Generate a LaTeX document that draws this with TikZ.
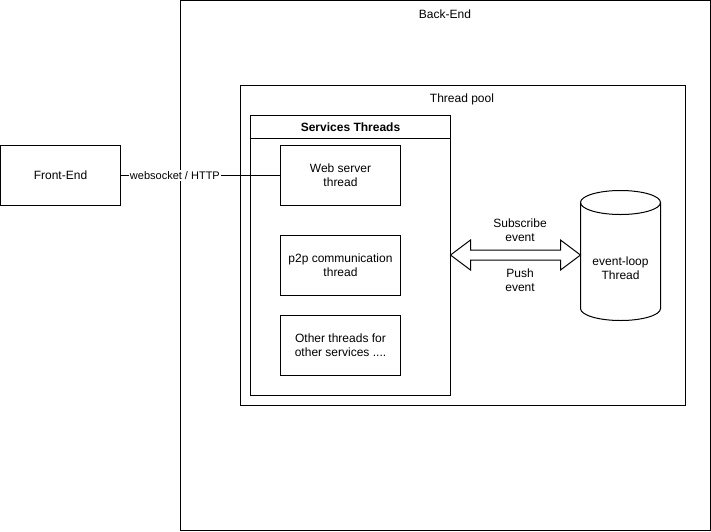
\documentclass[tikz,border=0pt]{standalone}
\usepackage{fontspec}
\setmainfont{Liberation Sans}
\usetikzlibrary{positioning,calc}
\definecolor{edge_black}{RGB}{0,0,0}

\begin{document}
\begin{tikzpicture}[x=1pt,y=-1pt,line width=1pt,font=\fontsize{12}{14}\selectfont]
    \tikzstyle{box}=[draw=edge_black, rectangle, inner sep=0pt, outer sep=0pt, fill=white, text=black, align=center]
    \tikzstyle{thread}=[style=box, minimum width=120pt, minimum height=60pt]
    \tikzstyle{lbl}=[text=black, align=center, inner sep=1pt]

    \useasboundingbox (0,0) rectangle (711,531);

    \node[box, minimum width=530pt, minimum height=530pt] (be) at (445.5,265.5) {};
    \node[lbl]                                         (bel) at (445,14)     {Back-End};
    \node[box, minimum width=445pt, minimum height=320pt] (tp) at (463,245.5) {};
    \node[lbl]                                         (tpl) at (462,99)     {Thread pool};
    \node[box, minimum width=200pt, minimum height=280pt] (svc) at (350.5,255.5) {};
    \node[box, minimum width=200pt, minimum height=23pt,
          font=\fontsize{12}{14}\selectfont\bfseries]   (svch) at (350.5,127) {Services Threads};

    \node[thread]                   (web)   at (340.5,175.5) {Web server\\thread};
    \node[thread, below=30pt of web] (p2p)  {p2p communication\\thread};
    \node[thread, below=20pt of p2p] (other) {Other threads for\\other services ....};
    \node[thread]                   (fe)    at (60.5,175.5)  {Front-End};

    % event-loop cylinder
    \draw[edge_black, fill=white] (580.5,202.5) -- (580.5,308.5) arc (180:360:40pt and 12pt)
        -- (660.5,202.5) arc (0:180:40pt and 12pt) -- cycle;
    \draw[edge_black] (580.5,202.5) arc (180:360:40pt and 12pt);
    \node[lbl, minimum width=80pt, minimum height=130pt, inner sep=0pt] (el) at (620.5,268) {event-loop\\Thread};

    \path
     (fe) edge[edge_black] node[pos=0.34, fill=white, inner sep=1pt, font=\fontsize{11}{13}\selectfont] {websocket / HTTP} (web)
     ;

    % double arrow between services and event loop
    \coordinate (mid) at (515,255);
    \coordinate (al) at (svc.east |- mid);
    \coordinate (ar) at (580.5,255);
    \draw[edge_black, fill=white, line join=miter]
        (al) -- ($(al)+(20,-15)$) -- ($(al)+(20,-5)$) -- ($(ar)+(-20,-5)$) -- ($(ar)+(-20,-15)$)
        -- (ar) -- ($(ar)+(-20,15)$) -- ($(ar)+(-20,5)$) -- ($(al)+(20,5)$) -- ($(al)+(20,15)$) -- cycle;
    \node[lbl] (sub)  at (520,230) {Subscribe\\event};
    \node[lbl] (push) at (520,280) {Push\\event};
\end{tikzpicture}
\end{document}
